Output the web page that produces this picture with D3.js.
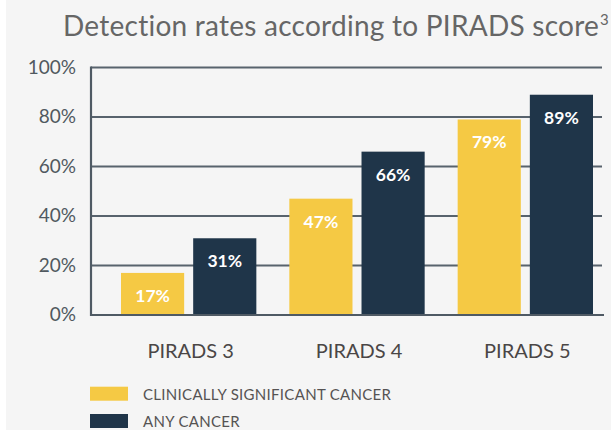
<!DOCTYPE html>
<html>
<head>
<meta charset="utf-8">
<script src="https://cdn.jsdelivr.net/npm/d3@7"></script>
<style>
  html, body { margin: 0; padding: 0; background: #ffffff; }
  svg { display: block; }
</style>
</head>
<body>
<svg id="chart" width="611" height="430"></svg>
<script>
const categories = ["PIRADS 3", "PIRADS 4", "PIRADS 5"];
const seriesNames = ["CLINICALLY SIGNIFICANT CANCER", "ANY CANCER"];
const clinicallySignificant = [17, 47, 79];
const anyCancer = [31, 66, 89];
const yTicks = [0, 20, 40, 60, 80, 100];
const colors = ["#f5c944", "#1f3549"];
const title = "Detection rates according to PIRADS score";

const svg = d3.select("#chart");
const font = "Lato, 'Open Sans', sans-serif";

svg.append("rect").attr("x", 6).attr("y", 0).attr("width", 605).attr("height", 430).attr("fill", "#f5f5f5");

const t = svg.append("text")
  .attr("x", 63).attr("y", 36)
  .attr("font-family", font).attr("font-size", 28).attr("letter-spacing", 0.25).attr("fill", "#666666")
  .text(title);
t.append("tspan").attr("font-size", 15).attr("dy", -11).attr("dx", 1).text("3");

const y = d3.scaleLinear().domain([0, 100]).range([315, 67.5]);
const x0 = d3.scaleBand().domain(categories).range([121, 593]).paddingInner(0.196).paddingOuter(0);
const x1 = d3.scaleBand().domain(seriesNames).range([0, x0.bandwidth()]).paddingInner(0.125);

// grid
svg.append("g").selectAll("line").data(yTicks.filter(d => d > 0)).join("line")
  .attr("x1", 91).attr("x2", 602)
  .attr("y1", d => y(d)).attr("y2", d => y(d))
  .attr("stroke", "#58636d").attr("stroke-width", 2.2);

// y axis labels
svg.append("g").selectAll("text").data(yTicks).join("text")
  .attr("x", 76).attr("y", d => y(d)).attr("dy", "0.33em")
  .attr("text-anchor", "end")
  .attr("font-family", font).attr("font-size", 19).attr("fill", "#505960")
  .text(d => d + "%");

const rows = categories.map((c, i) => [clinicallySignificant[i], anyCancer[i]]);

const groups = svg.append("g").selectAll("g").data(categories).join("g")
  .attr("transform", d => `translate(${x0(d)},0)`);

groups.selectAll("rect").data((d, i) => rows[i].map((v, j) => ({ v, s: seriesNames[j], j })))
  .join("rect")
  .attr("x", d => x1(d.s)).attr("width", x1.bandwidth())
  .attr("y", d => y(d.v)).attr("height", d => y(0) - y(d.v))
  .attr("fill", d => colors[d.j]);

groups.selectAll("text.val").data((d, i) => rows[i].map((v, j) => ({ v, s: seriesNames[j], j })))
  .join("text").attr("class", "val")
  .attr("x", d => x1(d.s) + x1.bandwidth() / 2)
  .attr("y", d => y(d.v) + 29)
  .attr("text-anchor", "middle")
  .attr("font-family", font).attr("font-weight", "bold").attr("font-size", 17.5).attr("fill", "#ffffff")
  .text(d => d.v + "%");

// axis lines
svg.append("line").attr("x1", 91).attr("x2", 91).attr("y1", 66.5).attr("y2", 316)
  .attr("stroke", "#4f5a64").attr("stroke-width", 2.2);
svg.append("line").attr("x1", 90).attr("x2", 604).attr("y1", y(0)).attr("y2", y(0))
  .attr("stroke", "#4f5a64").attr("stroke-width", 2.2);

// category labels
svg.append("g").selectAll("text").data(categories).join("text")
  .attr("x", d => x0(d) + x0.bandwidth() / 2 + 2)
  .attr("y", 358)
  .attr("text-anchor", "middle")
  .attr("font-family", font).attr("font-size", 20).attr("fill", "#4a4646")
  .text(d => d);

// legend
const leg = svg.append("g").selectAll("g").data(seriesNames).join("g")
  .attr("transform", (d, i) => `translate(90,${386.7 + i * 27.3})`);
leg.append("rect").attr("width", 38).attr("height", 14).attr("fill", (d, i) => colors[i]);
leg.append("text").attr("x", 53).attr("y", 12.8)
  .attr("font-family", font).attr("font-size", 15).attr("letter-spacing", 0.3).attr("fill", "#555353")
  .text(d => d);
</script>
</body>
</html>
